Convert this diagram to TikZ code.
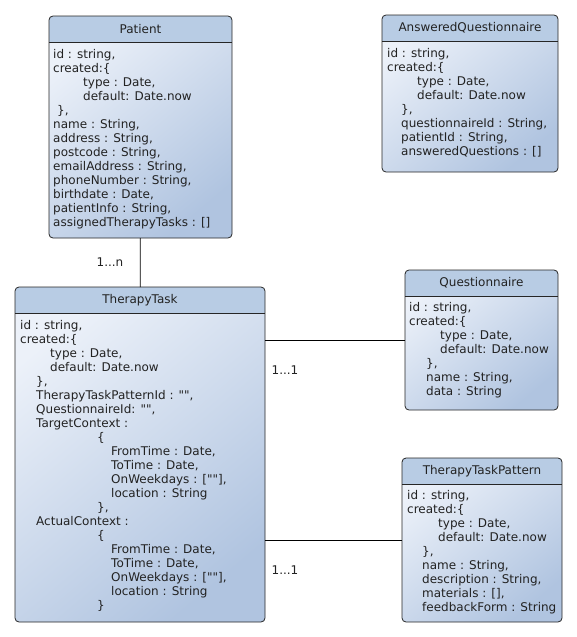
\documentclass[tikz,border=0pt]{standalone}
\usepackage{fontspec}
\setmainfont{DejaVu Sans}
\definecolor{entete}{RGB}{184,204,228}
\definecolor{fondclair}{RGB}{236,241,249}
\definecolor{fondfonce}{RGB}{176,196,224}
\definecolor{encre}{RGB}{34,34,34}

\begin{document}
\begin{tikzpicture}[x=1pt, y=-1pt]
\tikzset{classe/.style={draw=black!85, line width=0.8pt, rounded corners=4pt, inner sep=0pt, outer sep=0pt,
    top color=fondclair, bottom color=fondfonce, shading angle=40,
    path picture={\fill[entete, sharp corners] (path picture bounding box.north west) rectangle ([yshift=-26pt]path picture bounding box.north east);
      \draw[black!85, line width=0.8pt, sharp corners] ([yshift=-26pt]path picture bounding box.north west) -- ([yshift=-26pt]path picture bounding box.north east);}},
  titre/.style={text=encre, font=\fontsize{12}{14}\selectfont, inner sep=0pt},
  attributs/.style={anchor=north west, align=left, text=encre, font=\fontsize{12}{14}\selectfont, inner sep=0pt},
  mult/.style={text=encre, font=\fontsize{12}{14}\selectfont, inner sep=0pt}}
\useasboundingbox (0,0) rectangle (577,637);
\node[classe, minimum width=183pt, minimum height=222pt] (P) at (140.5,127) {};
\node[classe, minimum width=176pt, minimum height=157pt] (AQ) at (470,93.5) {};
\node[classe, minimum width=250pt, minimum height=335pt] (TT) at (140,454.5) {};
\node[classe, minimum width=153pt, minimum height=140pt] (Q) at (481.5,340) {};
\node[classe, minimum width=160pt, minimum height=164pt] (TTP) at (482,540) {};
\node[titre] at ([yshift=-13pt]P.north) {Patient};
\node[titre] at ([yshift=-13pt]AQ.north) {AnsweredQuestionnaire};
\node[titre] at ([yshift=-13pt]TT.north) {TherapyTask};
\node[titre] at ([yshift=-13pt]Q.north) {Questionnaire};
\node[titre] at ([yshift=-13pt]TTP.north) {TherapyTaskPattern};
\node[attributs] (Pa) at ([xshift=4pt, yshift=-33pt]P.north west) {id : string,\\
created:\{\\
\hspace*{30pt}type : Date,\\
\hspace*{30pt}default: Date.now\\
\hspace*{4pt}\},\\
name : String,\\
address : String,\\
postcode : String,\\
emailAddress : String,\\
phoneNumber : String,\\
birthdate : Date,\\
patientInfo : String,\\
assignedTherapyTasks : []};
\node[attributs] (AQa) at ([xshift=5pt, yshift=-33pt]AQ.north west) {id : string,\\
created:\{\\
\hspace*{30pt}type : Date,\\
\hspace*{30pt}default: Date.now\\
\hspace*{14pt}\},\\
\hspace*{14pt}questionnaireId : String,\\
\hspace*{14pt}patientId : String,\\
\hspace*{14pt}answeredQuestions : []};
\node[attributs] (TTa) at ([xshift=5pt, yshift=-33pt]TT.north west) {id : string,\\
created:\{\\
\hspace*{30pt}type : Date,\\
\hspace*{30pt}default: Date.now\\
\hspace*{16pt}\},\\
\hspace*{16pt}TherapyTaskPatternId : \textquotedbl\textquotedbl,\\
\hspace*{16pt}QuestionnaireId: \textquotedbl\textquotedbl,\\
\hspace*{16pt}TargetContext :\\
\hspace*{77pt}\{\\
\hspace*{91pt}FromTime : Date,\\
\hspace*{91pt}ToTime : Date,\\
\hspace*{91pt}OnWeekdays : [\textquotedbl\textquotedbl],\\
\hspace*{91pt}location : String\\
\hspace*{77pt}\},\\
\hspace*{16pt}ActualContext :\\
\hspace*{77pt}\{\\
\hspace*{91pt}FromTime : Date,\\
\hspace*{91pt}ToTime : Date,\\
\hspace*{91pt}OnWeekdays : [\textquotedbl\textquotedbl],\\
\hspace*{91pt}location : String\\
\hspace*{77pt}\}};
\node[attributs] (Qa) at ([xshift=4pt, yshift=-32pt]Q.north west) {id : string,\\
created:\{\\
\hspace*{31pt}type : Date,\\
\hspace*{31pt}default: Date.now\\
\hspace*{17pt}\},\\
\hspace*{17pt}name : String,\\
\hspace*{17pt}data : String};
\node[attributs] (TTPa) at ([xshift=5pt, yshift=-32pt]TTP.north west) {id : string,\\
created:\{\\
\hspace*{31pt}type : Date,\\
\hspace*{31pt}default: Date.now\\
\hspace*{15pt}\},\\
\hspace*{15pt}name : String,\\
\hspace*{15pt}description : String,\\
\hspace*{15pt}materials : [],\\
\hspace*{15pt}feedbackForm : String};
\draw[line width=0.8pt] (P) -- (TT);
\draw[line width=0.8pt] (Q.west) -- (Q.west -| TT.east);
\draw[line width=0.8pt] (TTP.west) -- (TTP.west -| TT.east);
\node[mult] (m1) at (110,262) {1...n};
\node[mult] (m2) at (285,370) {1...1};
\node[mult] (m3) at (285,570) {1...1};
\end{tikzpicture}
\end{document}
